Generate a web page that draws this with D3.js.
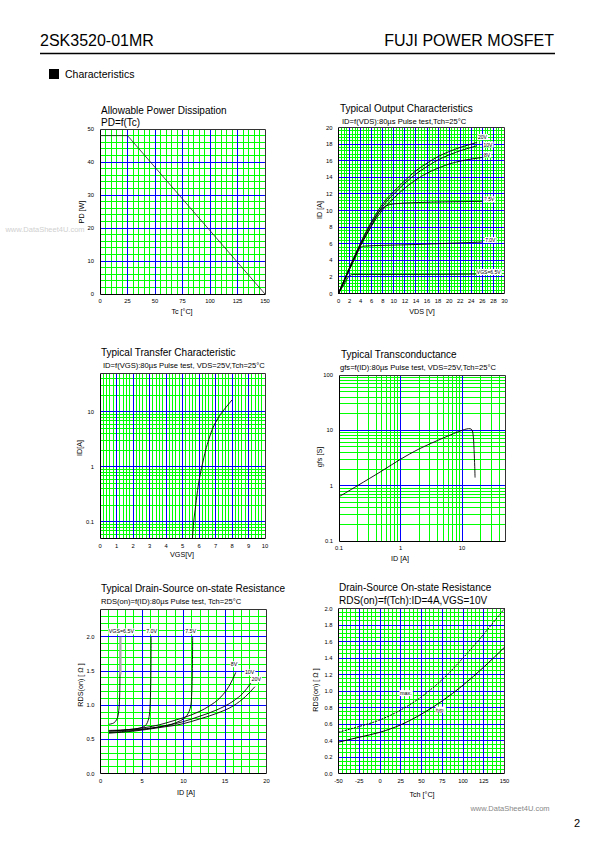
<!DOCTYPE html>
<html><head><meta charset="utf-8">
<script src="https://cdn.jsdelivr.net/npm/d3@7"></script>
<style>body{margin:0;background:#fff}svg{display:block}text{font-family:"Liberation Sans",Arial,sans-serif}</style>
</head><body>
<svg id="c" width="595" height="842"></svg>
<script>
// ---- Data ----
const pdTc = [[0,48],[25,48],[150,0]];
const outVgs65 = [[0,0],[1,1.1],[2,2.15],[2.6,2.3],[6,2.3],[14,2.3],[26,2.35]];
const outVgs70 = [[0,0],[1,1.4],[2,2.9],[3,4.3],[3.8,5.4],[4.5,5.7],[8,5.8],[14,5.9],[20,6.05],[26,6.2]];
const outVgs75 = [[0,0],[2,3.0],[4,5.8],[6,8.2],[7,9.5],[8,10.3],[10,10.8],[14,10.95],[20,11.05],[26,11.1]];
const outVgs8  = [[0,0],[2,3.0],[4,5.8],[6,8.2],[8,10.1],[10,11.5],[12,12.7],[14,13.7],[16,14.5],[18,15.1],[20,15.6],[22,15.95],[24,16.2],[26,16.4]];
const outVgs10 = [[0,0],[2,3.1],[4,6.0],[6,8.5],[8,10.5],[10,12.0],[12,13.3],[14,14.4],[16,15.3],[18,16.1],[20,16.7],[22,17.2],[24,17.6],[25,17.8]];
const outVgs20 = [[0,0],[2,3.15],[4,6.1],[6,8.7],[8,10.8],[10,12.3],[12,13.6],[14,14.8],[16,15.7],[18,16.5],[20,17.1],[22,17.6],[24,18.0],[25,18.2]];
const outLabels = [["20V",25.2,18.6],["10V",26.2,17.7],["8V",26.3,16.5],["7.5V",26.3,11.1],["7.0V",26.5,6.2],["VGS=6.5V",25,2.35]];
const transfer = [[5.6,0.05],[5.68,0.1],[5.8,0.2],[5.95,0.45],[6.1,0.8],[6.2,1.1],[6.4,2.0],[6.6,3.2],[6.8,4.8],[7.0,6.4],[7.3,9.0],[7.6,11.8],[8.0,16.5]];
const gfs = [[0.1,0.63],[0.2,1.0],[0.5,1.85],[1,3.0],[2,4.6],[5,7.3],[10,10.0],[12,10.6],[13.5,10.7],[14.5,10.2],[15.2,8.0],[15.7,4.5],[16.1,2.2],[16.3,1.4]];
const rdsId65 = [[1,0.72],[1.6,0.74],[2.0,0.8],[2.2,0.92],[2.3,1.1],[2.35,1.5],[2.4,2.0]];
const rdsId70 = [[1,0.63],[3,0.64],[4.5,0.66],[5.4,0.7],[5.8,0.8],[5.95,0.95],[6.05,1.3],[6.1,2.0]];
const rdsId75 = [[1,0.62],[4,0.64],[7,0.68],[9,0.74],[10.2,0.82],[10.8,0.95],[11.0,1.2],[11.1,2.0]];
const rdsId8  = [[1,0.62],[4,0.65],[7,0.71],[9,0.78],[11,0.86],[13,0.98],[14.5,1.12],[15.5,1.28],[16.3,1.48]];
const rdsId10 = [[1,0.6],[4,0.63],[7,0.68],[10,0.76],[12,0.84],[14,0.93],[16,1.06],[17.2,1.18],[18.1,1.32]];
const rdsId20 = [[1,0.59],[4,0.62],[7,0.67],[10,0.73],[12,0.8],[14,0.88],[16,0.99],[17.5,1.13],[18.6,1.27]];
const rdsIdLabels = [["VGS=6.5V",1.0,2.05],["7.0V",5.5,2.05],["7.5V",10.2,2.05],["8V",15.7,1.57],["10V",17.4,1.45],["20V",18.2,1.35]];
const rdsTchMax = [[-50,0.5],[-25,0.57],[0,0.65],[25,0.77],[50,0.93],[75,1.14],[100,1.4],[125,1.69],[150,2.0]];
const rdsTchTyp = [[-50,0.38],[-25,0.44],[0,0.5],[25,0.59],[50,0.72],[75,0.88],[100,1.07],[125,1.29],[150,1.53]];
const tcTicks = [0,25,50,75,100,125,150];
const pdTicks = [0,10,20,30,40,50];
const vdsTicks = d3.range(0,31,2);
const idTicks = d3.range(0,21,2);
const vgsTicks = d3.range(0,11,1);
const idLogTicks = [0.1,1,10];
const gfsXTicks = [0.1,1,10];
const gfsYTicks = [0.1,1,10,100];
const rdsIdXTicks = [0,5,10,15,20];
const rdsIdYTicks = [0,0.5,1.0,1.5,2.0];
const tchTicks = [-50,-25,0,25,50,75,100,125,150];
const rdsTchYTicks = d3.range(0,2.01,0.2);

const svg = d3.select("#c");
const GREEN = "#00ff00", BLUE = "#0000ff";
const snap = v => Math.round(v - 0.5) + 0.5;

function txt(x,y,s,opt={}){
  const t = svg.append("text").attr("x",x).attr("y",y).text(s)
    .attr("font-size",opt.size||10).attr("fill",opt.fill||"#000")
    .attr("text-anchor",opt.anchor||"start");
  if(opt.rotate) t.attr("transform",`rotate(-90,${x},${y})`);
  return t;
}

// Header
txt(40,46,"2SK3520-01MR",{size:16});
txt(554,46,"FUJI POWER MOSFET",{size:16,anchor:"end"});
svg.append("line").attr("x1",40).attr("x2",555).attr("y1",53.5).attr("y2",53.5).attr("stroke","#000").attr("stroke-width",1.6);
svg.append("rect").attr("x",49).attr("y",69).attr("width",10).attr("height",10).attr("fill","#000");
txt(65,78,"Characteristics",{size:10.5});
txt(45,232,"www.DataSheet4U.com",{size:7.5,fill:"#d0d0d0",anchor:"middle"});
txt(510,811,"www.DataSheet4U.com",{size:7.5,fill:"#888",anchor:"middle"});
txt(580,827,"2",{size:11,anchor:"end"});

function panel(cfg){
  const x = cfg.xlog ? d3.scaleLog().domain(cfg.xd).range(cfg.xr) : d3.scaleLinear().domain(cfg.xd).range(cfg.xr);
  const y = cfg.ylog ? d3.scaleLog().domain(cfg.yd).range(cfg.yr) : d3.scaleLinear().domain(cfg.yd).range(cfg.yr);
  const g = svg.append("g");
  const grid = g.append("g");
  const [x0,x1] = cfg.xr, [y0,y1] = cfg.yr;
  function vlines(vals,col){ grid.selectAll(null).data(vals).enter().append("line")
    .attr("x1",d=>snap(x(d))).attr("x2",d=>snap(x(d))).attr("y1",snap(y0)).attr("y2",snap(y1)).attr("stroke",col).attr("stroke-width",1); }
  function hlines(vals,col){ grid.selectAll(null).data(vals).enter().append("line")
    .attr("y1",d=>snap(y(d))).attr("y2",d=>snap(y(d))).attr("x1",snap(x0)).attr("x2",snap(x1)).attr("stroke",col).attr("stroke-width",1); }
  vlines(cfg.xminor,GREEN); hlines(cfg.yminor,GREEN);
  vlines(cfg.xmajor,BLUE); hlines(cfg.ymajor,BLUE);
  // frame
  const fl = (a,b,c,d,col)=>grid.append("line").attr("x1",snap(a)).attr("x2",snap(b)).attr("y1",snap(c)).attr("y2",snap(d)).attr("stroke",col);
  fl(x0,x0,y0,y1,"#000"); fl(x0,x1,y0,y0,"#000"); fl(x1,x1,y0,y1,"#333"); fl(x0,x1,y1,y1,"#333");
  // ticks
  const fx = cfg.fx || (d=>d), fy = cfg.fy || (d=>d);
  cfg.xticks.forEach(d=>txt(x(d),y0+9,fx(d),{size:5.8,anchor:"middle"}));
  cfg.yticks.forEach(d=>txt(x0-6,y(d)+2,fy(d),{size:5.8,anchor:"end"}));
  // titles
  txt(cfg.t1[0],cfg.t1[1],cfg.t1[2],{size:10});
  txt(cfg.t2[0],cfg.t2[1],cfg.t2[2],{size:cfg.t2[3]||7.6});
  txt(cfg.xl[0],cfg.xl[1],cfg.xl[2],{size:7.2,anchor:"middle"});
  txt(cfg.yl[0],cfg.yl[1],cfg.yl[2],{size:7.2,anchor:"middle",rotate:true});
  return {x,y,g};
}
function curve(p,data,opt={}){
  const line = d3.line().x(d=>p.x(d[0])).y(d=>p.y(d[1])).curve(opt.curve||d3.curveMonotoneX);
  p.g.append("path").datum(data).attr("d",line).attr("fill","none")
    .attr("stroke",opt.color||"#000").attr("stroke-width",opt.w||0.8)
    .attr("stroke-dasharray",opt.dash||null);
}
function label(p,s,xv,yv,opt={}){
  const t = txt(p.x(xv),p.y(yv),s,{size:opt.size||5.5,anchor:opt.anchor||"start"});
  const bb = t.node().getBBox();
  p.g.append("rect").attr("x",bb.x-0.5).attr("y",bb.y).attr("width",bb.width+1).attr("height",bb.height).attr("fill","#fff");
  t.raise();
}
function logMinor(a,b){ const r=[]; for(let e=a;e<b;e++) for(let k=1;k<10;k++){ r.push(k*Math.pow(10,e)); } return r; }

// Panel 1
const p1 = panel({xd:[0,150],xr:[100,265],yd:[0,50],yr:[294,129],
  xminor:d3.range(5,150,5),yminor:d3.range(2,50,2),xmajor:[25,50,75,100,125],ymajor:[10,20,30,40],
  xticks:tcTicks,yticks:pdTicks,
  t1:[101,114,"Allowable Power Dissipation"],t2:[101,125.5,"PD=f(Tc)",10],
  xl:[182,314,"Tc [°C]"],yl:[84,212,"PD [W]"]});
curve(p1,pdTc,{curve:d3.curveLinear,color:"#222"});

// Panel 2
const p2 = panel({xd:[0,30],xr:[338.5,504.5],yd:[0,20],yr:[293.5,127.5],
  xminor:d3.range(0.5,30,0.5),yminor:d3.range(0.4,20,0.4),xmajor:d3.range(2,30,2),ymajor:d3.range(2,20,2),
  xticks:vdsTicks,yticks:idTicks,
  t1:[340,112,"Typical Output Characteristics"],t2:[342,124,"ID=f(VDS):80µs Pulse test,Tch=25°C"],
  xl:[422,314,"VDS [V]"],yl:[322,210,"ID [A]"]});
[outVgs65,outVgs70,outVgs75,outVgs8,outVgs10,outVgs20].forEach(d=>curve(p2,d,{w:0.9}));
outLabels.forEach(l=>label(p2,l[0],l[1],l[2],{size:5}));

// Panel 3
const p3 = panel({xd:[0,10],xr:[100,265],yd:[0.05,50],ylog:true,yr:[538.5,373.5],
  xminor:d3.range(0.2,10,0.2),yminor:logMinor(-2,2).filter(v=>v>0.05&&v<50),xmajor:d3.range(1,10,1),ymajor:[0.1,1,10],
  xticks:vgsTicks,yticks:idLogTicks,fy:d=>String(d),
  t1:[101,356,"Typical Transfer Characteristic"],t2:[103,368,"ID=f(VGS):80µs Pulse test, VDS=25V,Tch=25°C"],
  xl:[182,557,"VGS[V]"],yl:[82,448,"ID[A]"]});
curve(p3,transfer,{w:0.9});

// Panel 4
const p4 = panel({xd:[0.1,50],xlog:true,xr:[339,505],yd:[0.1,100],ylog:true,yr:[541,375],
  xminor:logMinor(-1,2).filter(v=>v>0.1&&v<50),yminor:logMinor(-1,2).filter(v=>v>0.1&&v<100),xmajor:[1,10],ymajor:[1,10],
  xticks:gfsXTicks,yticks:gfsYTicks,fx:d=>String(d),fy:d=>String(d),
  t1:[341,358,"Typical Transconductance"],t2:[340,370,"gfs=f(ID):80µs Pulse test, VDS=25V,Tch=25°C"],
  xl:[400,561,"ID [A]"],yl:[322,457,"gfs [S]"]});
curve(p4,gfs,{w:0.9,curve:d3.curveCatmullRom});

// Panel 5
const p5 = panel({xd:[0,20],xr:[100.5,266.5],yd:[0,2.4],yr:[773.5,609.5],
  xminor:d3.range(1,20,1),yminor:d3.range(0.1,2.4,0.1),xmajor:[5,10,15],ymajor:[0.5,1,1.5,2],
  xticks:rdsIdXTicks,yticks:rdsIdYTicks,fy:d=>d.toFixed(1),
  t1:[101,592,"Typical Drain-Source on-state Resistance"],t2:[101,604,"RDS(on)=f(ID):80µs Pulse test, Tch=25°C"],
  xl:[186,795,"ID [A]"],yl:[83,685,"RDS(on) [ Ω ]"]});
curve(p5,rdsId65,{w:0.9,curve:d3.curveCatmullRom});
p5.g.append("line").attr("x1",p5.x(2.4)).attr("x2",p5.x(2.4)).attr("y1",p5.y(1.45)).attr("y2",p5.y(2.0)).attr("stroke","#aaa").attr("stroke-width",2.2);
[rdsId70,rdsId75].forEach(d=>curve(p5,d,{w:0.9,curve:d3.curveCatmullRom}));
[rdsId8,rdsId10,rdsId20].forEach(d=>curve(p5,d,{w:0.9}));
rdsIdLabels.forEach(l=>label(p5,l[0],l[1],l[2],{size:5.3}));

// Panel 6
const p6 = panel({xd:[-50,150],xr:[338.5,504.5],yd:[0,2],yr:[773.5,608.5],
  xminor:d3.range(-45,150,5),yminor:d3.range(0.05,2,0.05),xmajor:d3.range(-25,150,25),ymajor:d3.range(0.2,1.99,0.2),
  xticks:tchTicks,yticks:rdsTchYTicks,fy:d=>d.toFixed(1),
  t1:[339,591,"Drain-Source On-state Resistance"],t2:[339,604,"RDS(on)=f(Tch):ID=4A,VGS=10V",10],
  xl:[422,797,"Tch [°C]"],yl:[318,690,"RDS(on) [ Ω ]"]});
curve(p6,rdsTchMax,{w:1,dash:"2,1.2"});
curve(p6,rdsTchTyp,{w:1});
label(p6,"max.",24,0.95,{size:5.5});
label(p6,"typ.",67.5,0.75,{size:5.5});
</script>
</body></html>
